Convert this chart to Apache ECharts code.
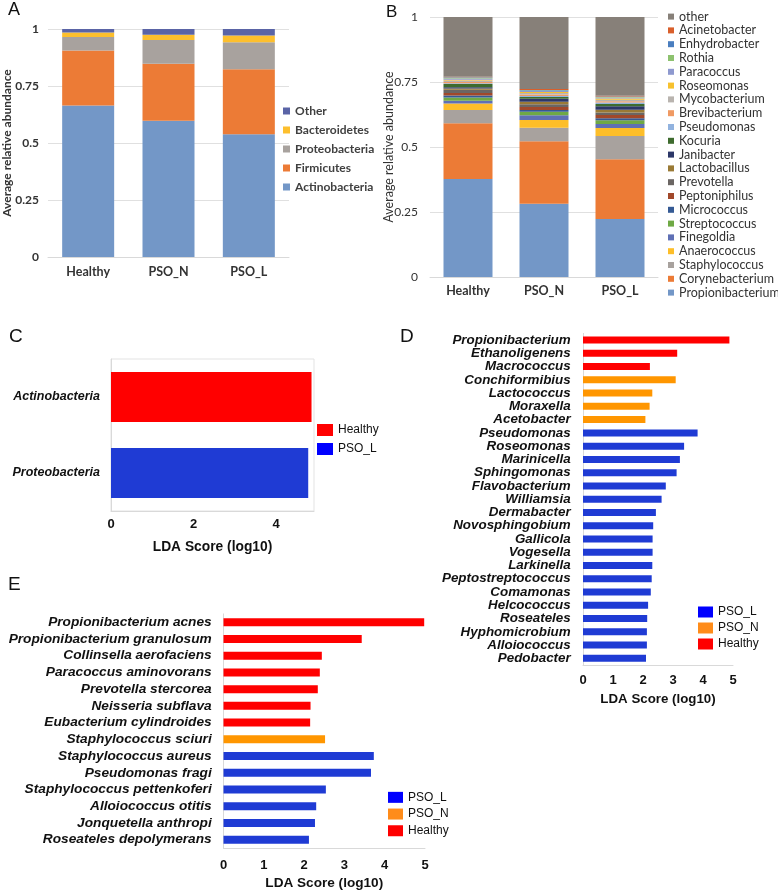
<!DOCTYPE html>
<html><head><meta charset="utf-8">
<script src="https://cdn.jsdelivr.net/npm/echarts@6/dist/echarts.min.js"></script>
<style>html,body{margin:0;padding:0;background:#fff}#c{width:778px;height:891px}</style>
</head><body><div id="c"></div>
<script>
// ---------- Panel A data (phylum level) ----------
const groupsAB = ['Healthy', 'PSO_N', 'PSO_L'];
const phylaA = ['Actinobacteria', 'Firmicutes', 'Proteobacteria', 'Bacteroidetes', 'Other'];
const actinobacteriaA = [0.664, 0.598, 0.538];
const firmicutesA = [0.242, 0.250, 0.285];
const proteobacteriaA = [0.059, 0.104, 0.119];
const bacteroidetesA = [0.020, 0.023, 0.029];
const otherA = [0.015, 0.025, 0.029];

// ---------- Panel B data (genus level, bottom to top) ----------
const genusB = ['Propionibacterium', 'Corynebacterium', 'Staphylococcus', 'Anaerococcus', 'Finegoldia',
  'Streptococcus', 'Micrococcus', 'Peptoniphilus', 'Prevotella', 'Lactobacillus', 'Janibacter', 'Kocuria',
  'Pseudomonas', 'Brevibacterium', 'Mycobacterium', 'Roseomonas', 'Paracoccus', 'Rothia', 'Enhydrobacter',
  'Acinetobacter', 'other'];
const healthyB = [0.377, 0.214, 0.051, 0.025, 0.011, 0.012, 0.008, 0.010, 0.012, 0.005, 0.005, 0.012,
  0.003, 0.005, 0.006, 0.003, 0.004, 0.003, 0.002, 0.002, 0.230];
const psoNB = [0.282, 0.240, 0.052, 0.030, 0.018, 0.014, 0.006, 0.012, 0.010, 0.010, 0.012, 0.006,
  0.004, 0.006, 0.006, 0.004, 0.003, 0.002, 0.002, 0.004, 0.277];
const psoLB = [0.223, 0.230, 0.089, 0.031, 0.015, 0.015, 0.008, 0.012, 0.010, 0.010, 0.014, 0.008,
  0.006, 0.005, 0.006, 0.005, 0.003, 0.002, 0.002, 0.003, 0.303];

// ---------- Panel C data ----------
const labelsC = ['Actinobacteria', 'Proteobacteria'];
const scoresC = [4.86, 4.78];
const groupC = ['Healthy', 'PSO_L'];

// ---------- Panel D data ----------
const labelsD = ['Propionibacterium', 'Ethanoligenens', 'Macrococcus', 'Conchiformibius', 'Lactococcus',
  'Moraxella', 'Acetobacter', 'Pseudomonas', 'Roseomonas', 'Marinicella', 'Sphingomonas', 'Flavobacterium',
  'Williamsia', 'Dermabacter', 'Novosphingobium', 'Gallicola', 'Vogesella', 'Larkinella', 'Peptostreptococcus',
  'Comamonas', 'Helcococcus', 'Roseateles', 'Hyphomicrobium', 'Alloiococcus', 'Pedobacter'];
const scoresD = [4.88, 3.14, 2.23, 3.09, 2.31, 2.22, 2.08, 3.82, 3.37, 3.23, 3.12, 2.76,
  2.62, 2.43, 2.34, 2.32, 2.32, 2.31, 2.29, 2.26, 2.17, 2.14, 2.13, 2.13, 2.10];
const groupD = ['Healthy', 'Healthy', 'Healthy', 'PSO_N', 'PSO_N', 'PSO_N', 'PSO_N',
  'PSO_L', 'PSO_L', 'PSO_L', 'PSO_L', 'PSO_L', 'PSO_L', 'PSO_L', 'PSO_L', 'PSO_L', 'PSO_L', 'PSO_L',
  'PSO_L', 'PSO_L', 'PSO_L', 'PSO_L', 'PSO_L', 'PSO_L', 'PSO_L'];

// ---------- Panel E data ----------
const labelsE = ['Propionibacterium acnes', 'Propionibacterium granulosum', 'Collinsella aerofaciens',
  'Paracoccus aminovorans', 'Prevotella stercorea', 'Neisseria subflava', 'Eubacterium cylindroides',
  'Staphylococcus sciuri', 'Staphylococcus aureus', 'Pseudomonas fragi', 'Staphylococcus pettenkoferi',
  'Alloiococcus otitis', 'Jonquetella anthropi', 'Roseateles depolymerans'];
const scoresE = [4.98, 3.43, 2.44, 2.39, 2.34, 2.16, 2.15, 2.52, 3.73, 3.66, 2.54, 2.30, 2.27, 2.12];
const groupE = ['Healthy', 'Healthy', 'Healthy', 'Healthy', 'Healthy', 'Healthy', 'Healthy',
  'PSO_N', 'PSO_L', 'PSO_L', 'PSO_L', 'PSO_L', 'PSO_L', 'PSO_L'];

// ---------- styles ----------
const colorA = {Actinobacteria: '#7397c7', Firmicutes: '#ec7b36', Proteobacteria: '#a8a29e',
  Bacteroidetes: '#fdbf2d', Other: '#5a64a6'};
const colorB = {Propionibacterium: '#7397c7', Corynebacterium: '#ec7b36', Staphylococcus: '#a8a29e',
  Anaerococcus: '#fdbe29', Finegoldia: '#5f70b5', Streptococcus: '#6fa945', Micrococcus: '#355a94',
  Peptoniphilus: '#a1482a', Prevotella: '#6b6663', Lactobacillus: '#9a7a35', Janibacter: '#2c3768',
  Kocuria: '#3e6b2e', Pseudomonas: '#92b3df', Brevibacterium: '#f09a63', Mycobacterium: '#b9b4af',
  Roseomonas: '#f7c12e', Paracoccus: '#8e99cf', Rothia: '#8dc26f', Enhydrobacter: '#4a7ebf',
  Acinetobacter: '#d95f2b', other: '#878079'};
const ldaBar = {Healthy: '#ff0000', PSO_N: '#ff9600', PSO_L: '#1f3bd4'};
const ldaLeg = {Healthy: '#ff0000', PSO_N: '#ff8c1a', PSO_L: '#0000ff'};
const XL = 'Lato, "Open Sans", sans-serif';
const AR = '"Liberation Sans", Arial, sans-serif';

const series = [];
const seriesA = {Actinobacteria: actinobacteriaA, Firmicutes: firmicutesA, Proteobacteria: proteobacteriaA,
  Bacteroidetes: bacteroidetesA, Other: otherA};
phylaA.forEach(p => series.push({type: 'bar', name: p, xAxisIndex: 0, yAxisIndex: 0, stack: 'A',
  barWidth: 52, data: seriesA[p], itemStyle: {color: colorA[p]}}));
genusB.forEach((g, i) => series.push({type: 'bar', name: g, xAxisIndex: 1, yAxisIndex: 1, stack: 'B',
  barWidth: 49, data: [healthyB[i], psoNB[i], psoLB[i]], itemStyle: {color: colorB[g]}}));

function lda(scores, groups, idx, bw) {
  ['Healthy', 'PSO_N', 'PSO_L'].forEach(g => {
    if (groups.indexOf(g) < 0) return;
    series.push({type: 'bar', name: g, xAxisIndex: idx, yAxisIndex: idx, barWidth: bw, barGap: '-100%',
      data: scores.map((v, i) => groups[i] === g ? v : '-'), itemStyle: {color: ldaBar[g]}});
  });
}
lda(scoresC, groupC, 2, 50);
lda(scoresD, groupD, 3, 7);
lda(scoresE, groupE, 4, 8);

const axLine = {show: true, lineStyle: {color: '#d9d9d9', width: 1}};
function catY(labels, idx, fs, margin) {
  return {type: 'category', gridIndex: idx, data: labels, inverse: true,
    axisLine: axLine, axisTick: {show: false},
    axisLabel: {interval: 0, fontFamily: AR, fontStyle: 'italic', fontWeight: 'bold', fontSize: fs, color: '#111', margin: margin}};
}
function valX(idx, max, interval, margin, gap, fs) {
  return {type: 'value', gridIndex: idx, min: 0, max: max, interval: interval,
    axisLine: axLine, axisTick: {show: false}, splitLine: {show: false},
    axisLabel: {fontFamily: AR, fontWeight: 'bold', fontSize: 13, color: '#111', margin: margin, showMaxLabel: max % interval === 0},
    name: 'LDA Score (log10)', nameLocation: 'middle', nameGap: gap, nameMoveOverlap: false,
    nameTextStyle: {fontFamily: AR, fontWeight: 'bold', fontSize: fs, color: '#111'}};
}
function ldaLegend(items, left, top, w, h, lh, fs) {
  return {orient: 'vertical', left: left, top: top, itemWidth: w, itemHeight: h, itemGap: 0, icon: 'rect',
    padding: 0, selectedMode: false,
    data: items.map(n => ({name: n, itemStyle: {color: ldaLeg[n]}})),
    textStyle: {fontFamily: AR, fontSize: fs, color: '#111', lineHeight: lh}};
}
const letter = (t, l, tp, fs) => ({text: t, left: l, top: tp, padding: 0,
  textStyle: {fontFamily: AR, fontWeight: 'normal', fontSize: fs, color: '#111'}});

const option = {
  animation: false,
  backgroundColor: '#fff',
  title: [letter('A', 8, 1, 18), letter('B', 386, 4, 17), letter('C', 9, 327, 19),
    letter('D', 400, 327, 19), letter('E', 8, 575, 19)],
  grid: [
    {left: 45, top: 29, width: 244, height: 228},
    {left: 430, top: 17, width: 228, height: 260},
    {left: 111, top: 359, width: 203, height: 152, show: true, borderColor: '#e3e3e3', borderWidth: 1},
    {left: 583, top: 333.4, width: 150, height: 331.6},
    {left: 223.5, top: 613.9, width: 201.5, height: 234.5}
  ],
  xAxis: [
    {type: 'category', gridIndex: 0, data: groupsAB, axisLine: axLine, axisTick: {show: false},
      axisLabel: {fontFamily: XL, fontWeight: 'bold', fontSize: 12.5, color: '#333', margin: 8}},
    {type: 'category', gridIndex: 1, data: groupsAB, axisLine: axLine, axisTick: {show: false},
      axisLabel: {fontFamily: XL, fontWeight: 'bold', fontSize: 12.5, color: '#333', margin: 7}},
    valX(2, 4.92, 2, 7, 29, 13.8),
    valX(3, 5, 1, 9, 27.5, 13.3),
    valX(4, 5, 1, 10.5, 28, 13.6)
  ],
  yAxis: [
    {type: 'value', gridIndex: 0, min: 0, max: 1, interval: 0.25, axisLine: {show: false}, axisTick: {show: false},
      splitLine: {lineStyle: {color: '#e0e0e0'}},
      axisLabel: {fontFamily: XL, fontWeight: 'bold', fontSize: 12, color: '#333', margin: 9},
      name: 'Average relative abundance', nameLocation: 'middle', nameGap: 35, nameMoveOverlap: false,
      nameTextStyle: {fontFamily: XL, fontWeight: 'bold', fontSize: 12, color: '#333'}},
    {type: 'value', gridIndex: 1, min: 0, max: 1, interval: 0.25, axisLine: {show: false}, axisTick: {show: false},
      splitLine: {lineStyle: {color: '#e0e0e0'}},
      axisLabel: {fontFamily: XL, fontSize: 12, color: '#333', margin: 12},
      name: 'Average relative abundance', nameLocation: 'middle', nameGap: 34.5, nameMoveOverlap: false,
      nameTextStyle: {fontFamily: XL, fontSize: 12.5, color: '#333'}},
    catY(labelsC, 2, 12.5, 11),
    catY(labelsD, 3, 13.4, 12.3),
    catY(labelsE, 4, 13.7, 11.8)
  ],
  legend: [
    {orient: 'vertical', left: 283, top: 101.5, itemWidth: 7, itemHeight: 7, itemGap: 0, icon: 'rect',
      padding: 0, selectedMode: false, data: phylaA.slice().reverse(),
      textStyle: {fontFamily: XL, fontWeight: 'bold', fontSize: 12, color: '#404040', lineHeight: 19}},
    {orient: 'vertical', left: 668, top: 9.7, itemWidth: 6, itemHeight: 6, itemGap: 0, icon: 'rect',
      padding: 0, selectedMode: false, data: genusB.slice().reverse(),
      textStyle: {fontFamily: XL, fontSize: 12.5, color: '#333', lineHeight: 13.8}},
    ldaLegend(['Healthy', 'PSO_L'], 317, 420.5, 16, 12, 19, 12),
    ldaLegend(['PSO_L', 'PSO_N', 'Healthy'], 698, 604, 15, 11, 16, 12),
    ldaLegend(['PSO_L', 'PSO_N', 'Healthy'], 388, 789, 15, 11, 16.7, 12)
  ],
  series: series
};
const chart = echarts.init(document.getElementById('c'), null, {renderer: 'canvas'});
chart.setOption(option);
</script>
</body></html>
